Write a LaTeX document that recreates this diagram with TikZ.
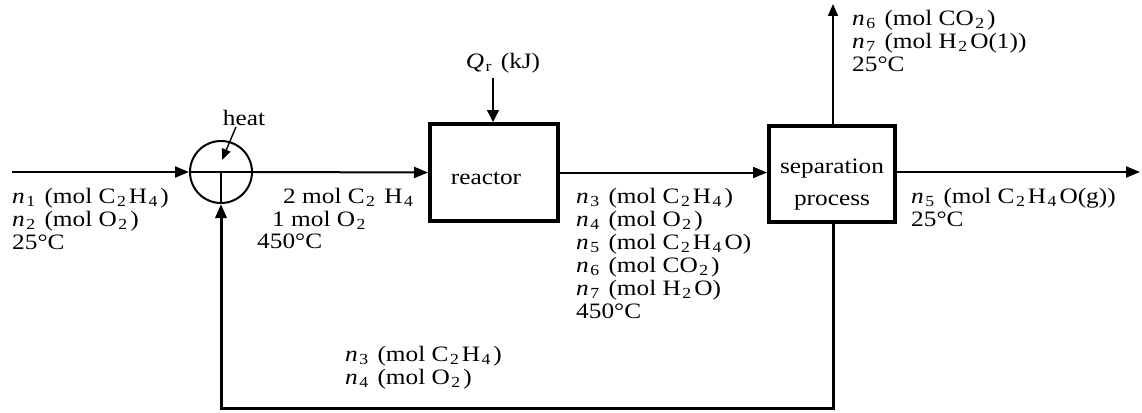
\documentclass[tikz,border=0pt]{standalone}
\usepackage{fontspec}
\setmainfont{Liberation Serif}[FakeStretch=1.15]
\usetikzlibrary{arrows.meta}

% amounts of species: italic n with a subscript index
\newcommand{\sbs}[1]{\kern1.5pt\textsubscript{#1}\kern2.5pt\relax}
\newcommand{\nmol}[1]{\textit{n}\sbs{#1}}

\begin{document}
\begin{tikzpicture}[x=1pt,y=-1pt,
  flow/.style={line width=2pt, -{Triangle[length=14pt,width=11pt]}},
  thin flow/.style={line width=1.6pt, -{Triangle[length=12pt,width=10pt]}},
  unitbox/.style={draw, line width=4pt, inner sep=0pt},
  lbl/.style={inner sep=0pt, align=left, font=\fontsize{22}{23}\selectfont},
  nwlbl/.style={lbl, anchor=north west}]

\useasboundingbox (0,0) rectangle (1142,412);

% process units
\node[circle, draw, line width=2pt, minimum size=62pt, inner sep=0pt] (heater) at (221,172) {};
\draw[line width=1.6pt] (heater.west) -- (heater.east);
\draw[line width=1.6pt] (heater.center) -- (heater.south);

\node[unitbox, minimum width=128pt, minimum height=97pt] (reactor) at (494,172.5) {};
\node[lbl] (reactortxt) at (486,178) {reactor};

\node[unitbox, minimum width=126pt, minimum height=96pt] (separator) at (832,174) {};
\node[lbl, align=center, font=\fontsize{22}{32}\selectfont] (septxt) at (832,185)
  {separation\\process};

% free ends of the feed and product streams
\coordinate (feedin) at (12,172);
\coordinate (gasout) at (1140,172);
\coordinate (topout) at (833,4);
\coordinate (heatsrc) at (236,127);
\coordinate (qsrc) at (493,78);
\coordinate (recyc1) at (833,408);
\coordinate (recyc2) at (221,408);

% streams
\draw[flow] (feedin) -- (heater.west);
\draw[flow] (heater.east) -- (reactor.west);
\draw[flow] (reactor.east) -- (separator.west |- reactor.east);
\draw[flow] (separator.east |- gasout) -- (gasout);
\draw[thin flow] (separator.north -| topout) -- (topout);
\draw[flow, line width=3pt] (separator.south -| recyc1) -- (recyc1) -- (recyc2) -- (heater.south);
\draw[line width=1.4pt, -{Triangle[length=11pt,width=9pt]}] (heatsrc) -- (222,160);
\draw[line width=1.4pt, -{Triangle[length=12pt,width=12pt]}] (qsrc) -- (reactor.north -| qsrc);

% labels
\node[lbl] (heatlbl) at (244,118) {heat};
\node[lbl] (qlbl) at (503,63) {\textit{Q}\sbs{r} (kJ)};

\node[nwlbl] (feedlbl) at (12,188)
  {\nmol{1} (mol C\sbs{2}H\sbs{4})\\ \nmol{2} (mol O\sbs{2})\\ 25°C};

\node[nwlbl] (mixA) at (283,188) {2 mol C\sbs{2} H\sbs{4}};
\node[nwlbl] (mixB) at (272,211) {1 mol O\sbs{2}};
\node[nwlbl] (mixC) at (257,234) {450°C};

\node[nwlbl] (reactoutlbl) at (576,188)
  {\nmol{3} (mol C\sbs{2}H\sbs{4})\\ \nmol{4} (mol O\sbs{2})\\
   \nmol{5} (mol C\sbs{2}H\sbs{4}O)\\ \nmol{6} (mol CO\sbs{2})\\
   \nmol{7} (mol H\sbs{2}O)\\ 450°C};

\node[nwlbl] (recyclbl) at (345,346)
  {\nmol{3} (mol C\sbs{2}H\sbs{4})\\ \nmol{4} (mol O\sbs{2})};

\node[nwlbl] (toplbl) at (852,10)
  {\nmol{6} (mol CO\sbs{2})\\ \nmol{7} (mol H\sbs{2}O(1))\\ 25°C};

\node[nwlbl] (gaslbl) at (911,188)
  {\nmol{5} (mol C\sbs{2}H\sbs{4}O(g))\\ 25°C};

\end{tikzpicture}
\end{document}
